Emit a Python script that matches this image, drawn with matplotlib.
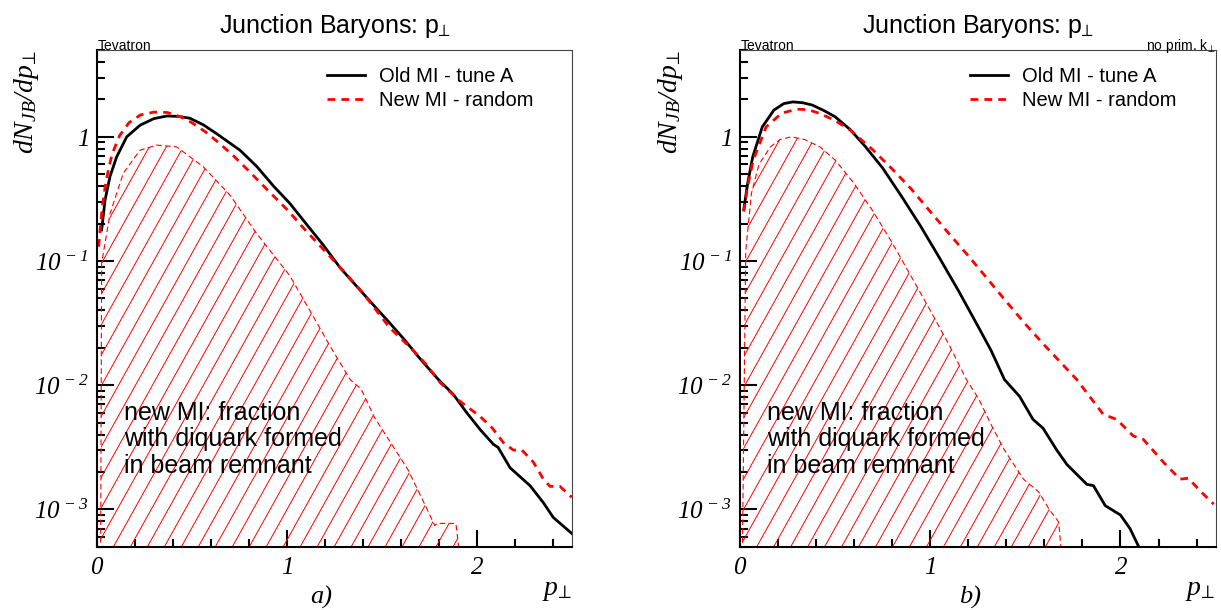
import numpy as np
import matplotlib
matplotlib.use("Agg")
import matplotlib.pyplot as plt
from matplotlib.collections import LineCollection
from matplotlib.ticker import LogLocator, FixedLocator, MultipleLocator, FuncFormatter, NullFormatter

plt.rcParams['font.family'] = ['Liberation Sans', 'DejaVu Sans']
plt.rcParams['mathtext.fontset'] = 'custom'
plt.rcParams['mathtext.rm'] = 'Liberation Serif:italic'
plt.rcParams['mathtext.it'] = 'Liberation Serif:italic'
plt.rcParams['mathtext.sf'] = 'Liberation Sans'

# ---- panel a) ----
a_old_x = [0.026, 0.044, 0.07, 0.105, 0.158, 0.228, 0.30, 0.368, 0.43, 0.49, 0.56, 0.63, 0.70, 0.753,
           0.84, 0.93, 1.016, 1.10, 1.19, 1.28, 1.367, 1.45, 1.54, 1.62, 1.70, 1.796, 1.875, 1.945,
           2.015, 2.085, 2.11, 2.173, 2.278, 2.348, 2.40, 2.497]
a_old_y = [0.178, 0.31, 0.48, 0.69, 1.0, 1.24, 1.40, 1.47, 1.46, 1.41, 1.25, 1.06, 0.89, 0.78,
           0.58, 0.40, 0.29, 0.20, 0.135, 0.088, 0.0624, 0.045, 0.0317, 0.023, 0.0163, 0.0111, 0.0084, 0.0060,
           0.0044, 0.00334, 0.00315, 0.00216, 0.00155, 0.00113, 0.00086, 0.00064]
a_new_x = [0.01, 0.03, 0.05, 0.08, 0.12, 0.17, 0.23, 0.30, 0.37, 0.44, 0.50, 0.57, 0.64, 0.72, 0.80,
           0.90, 1.00, 1.10, 1.20, 1.30, 1.40, 1.54, 1.65, 1.73, 1.805, 1.91, 2.015, 2.08, 2.138, 2.19,
           2.235, 2.295, 2.348, 2.383, 2.435, 2.497]
a_new_y = [0.13, 0.28, 0.45, 0.72, 1.02, 1.30, 1.50, 1.58, 1.57, 1.45, 1.30, 1.10, 0.90, 0.70, 0.53,
           0.37, 0.26, 0.175, 0.12, 0.082, 0.055, 0.029, 0.020, 0.0148, 0.0105, 0.0074, 0.0056, 0.0045,
           0.00344, 0.0030, 0.0030, 0.0024, 0.00175, 0.00153, 0.00153, 0.00125]
a_frac_x = [0.02, 0.026, 0.07, 0.14, 0.228, 0.315, 0.42, 0.56, 0.70, 0.84, 1.016, 1.12, 1.227, 1.332,
            1.39, 1.46, 1.534, 1.635, 1.686, 1.737, 1.777, 1.79, 1.85, 1.888, 1.92]
a_frac_y = [0.0002, 0.096, 0.24, 0.51, 0.78, 0.857, 0.83, 0.574, 0.34, 0.167, 0.0757, 0.040, 0.0206,
            0.0111, 0.0093, 0.0055, 0.00366, 0.0021, 0.00145, 0.0010, 0.00074, 0.00077, 0.00077, 0.00077, 0.0003]

# ---- panel b) ----
b_old_x = [0.02, 0.04, 0.067, 0.117, 0.178, 0.23, 0.278, 0.33, 0.38, 0.44, 0.50, 0.58, 0.66, 0.75,
           0.85, 0.95, 1.05, 1.15, 1.25, 1.32, 1.39, 1.47, 1.54, 1.593, 1.665, 1.718, 1.823, 1.858,
           1.92, 2.0, 2.05, 2.096, 2.12]
b_old_y = [0.26, 0.42, 0.69, 1.2, 1.64, 1.85, 1.91, 1.88, 1.80, 1.63, 1.45, 1.14, 0.83, 0.56,
           0.33, 0.19, 0.105, 0.057, 0.030, 0.019, 0.0111, 0.0081, 0.0053, 0.0045, 0.0030, 0.0023, 0.00159,
           0.00155, 0.00107, 0.0009, 0.0007, 0.0005, 0.0004]
b_new_x = [0.02, 0.04, 0.07, 0.137, 0.219, 0.30, 0.36, 0.42, 0.50, 0.58, 0.70, 0.80, 0.90, 1.0, 1.1,
           1.2, 1.3, 1.4, 1.5, 1.6, 1.77, 1.91, 1.98, 2.067, 2.12, 2.225, 2.313, 2.357, 2.42, 2.49]
b_new_y = [0.25, 0.40, 0.65, 1.2, 1.55, 1.67, 1.65, 1.54, 1.35, 1.13, 0.78, 0.55, 0.38, 0.25, 0.165,
           0.11, 0.072, 0.047, 0.031, 0.021, 0.0111, 0.0058, 0.0053, 0.0039, 0.00366, 0.0024, 0.00175,
           0.00178, 0.0014, 0.0011]
b_frac_x = [0.01, 0.03, 0.06, 0.10, 0.16, 0.21, 0.27, 0.34, 0.42, 0.50, 0.60, 0.70, 0.80, 0.90, 1.0,
            1.10, 1.19, 1.256, 1.32, 1.39, 1.49, 1.57, 1.625, 1.675, 1.70]
b_frac_y = [0.0002, 0.12, 0.35, 0.60, 0.83, 0.95, 1.0, 0.95, 0.83, 0.65, 0.42, 0.25, 0.14, 0.075, 0.04,
            0.021, 0.0111, 0.0077, 0.0048, 0.0030, 0.00175, 0.00138, 0.0010, 0.00079, 0.0003]

W, H = 1221, 610
fig = plt.figure(figsize=(W / 100, H / 100), dpi=100)


def add_ax(left, top, right, bottom):
    return fig.add_axes([left / W, 1 - bottom / H, (right - left) / W, (bottom - top) / H])


def ylabfmt(v, pos):
    e = int(round(np.log10(v)))
    return r'$1$' if e == 0 else r'$10^{\,%d}$' % e


def panel(ax, old_x, old_y, new_x, new_y, frac_x, frac_y, tag, tag_x, corner=None):
    ax.set_yscale('log')
    ax.set_xlim(0, 2.5)
    ax.set_ylim(5e-4, 5)

    # hatched region, ROOT style steep hatch
    poly = ax.fill_between(frac_x, frac_y, 1e-6, facecolor='none', edgecolor='none')
    offs = np.arange(-1.0, 1.05, 0.0357)
    segs = [[(c, 0.0), (c + 1 / 1.72, 1.0)] for c in offs]
    lc = LineCollection(segs, colors='red', linewidths=0.7, transform=ax.transAxes)
    lc.set_clip_path(poly.get_paths()[0], ax.transData)
    ax.add_collection(lc, autolim=False)
    ax.plot(frac_x, frac_y, color='red', lw=0.8, dashes=(5, 3))

    ax.plot(old_x, old_y, color='black', lw=2.0, label='Old MI - tune A')
    ax.plot(new_x, new_y, color='red', lw=2.0, dashes=(2.8, 2.2), label='New MI - random')

    ax.set_xlim(0, 2.5)
    ax.set_ylim(5e-4, 5)

    for s in ['left', 'bottom']:
        ax.spines[s].set_linewidth(1.5)
    for s in ['top', 'right']:
        ax.spines[s].set_linewidth(0.8)
        ax.spines[s].set_color('#444444')

    ax.xaxis.set_major_locator(FixedLocator([0, 1, 2]))
    ax.xaxis.set_minor_locator(MultipleLocator(0.2))
    ax.xaxis.set_major_formatter(FuncFormatter(lambda v, p: r'$%d$' % round(v)))
    ax.yaxis.set_major_locator(LogLocator(base=10, numticks=10))
    ax.yaxis.set_minor_locator(LogLocator(base=10, subs=np.arange(2, 10), numticks=20))
    ax.yaxis.set_major_formatter(FuncFormatter(ylabfmt))
    ax.yaxis.set_minor_formatter(NullFormatter())
    ax.tick_params(which='both', direction='in', top=False, right=False, width=1.5, labelsize=18)
    ax.tick_params(which='major', length=12)
    ax.tick_params(which='minor', length=6)
    ax.tick_params(axis='x', which='major', pad=6)
    ax.tick_params(axis='y', which='major', pad=6)

    ax.legend(loc='upper left', bbox_to_anchor=(0.484, 0.966), frameon=False, fontsize=14.5,
              handlelength=1.87, handletextpad=0.7, labelspacing=0.25, borderpad=0, borderaxespad=0)

    ax.text(0.0574, 0.293, 'new MI: fraction\nwith diquark formed\nin beam remnant',
            transform=ax.transAxes, ha='left', va='top', fontsize=18, linespacing=1.12)
    ax.text(0.002, 1.0, 'Tevatron', transform=ax.transAxes, ha='left', va='baseline', fontsize=10)
    if corner:
        ax.text(1.0, 1.0, corner, transform=ax.transAxes, ha='right', va='baseline', fontsize=10)
    ax.text(1.0, -0.087, r'$p_{\!\perp}$', transform=ax.transAxes, ha='right', va='center', fontsize=20)
    ax.text(-0.1466, 1.0, r'$dN_{JB}/dp_{\!\perp}$', transform=ax.transAxes, rotation=90,
            ha='center', va='top', fontsize=20)
    fig.text(tag_x / W, 1 - 597 / H, tag, ha='center', va='center', fontsize=19,
             family='Liberation Serif', style='italic')
    bb = ax.get_position()
    fig.text((bb.x0 + bb.x1) / 2, 1 - 33 / H, r'Junction Baryons: $\mathsf{p}_{\!\!\perp}$',
             ha='center', va='baseline', fontsize=18)


axa = add_ax(96.7, 50, 572.3, 546.7)
axb = add_ax(740, 50, 1215.6, 546.7)
panel(axa, a_old_x, a_old_y, a_new_x, a_new_y, a_frac_x, a_frac_y, 'a)', 321)
panel(axb, b_old_x, b_old_y, b_new_x, b_new_y, b_frac_x, b_frac_y, 'b)', 970,
      corner=r'no prim. $\mathsf{k}_{\!\perp}$')

fig.savefig('out.png', dpi=100)
